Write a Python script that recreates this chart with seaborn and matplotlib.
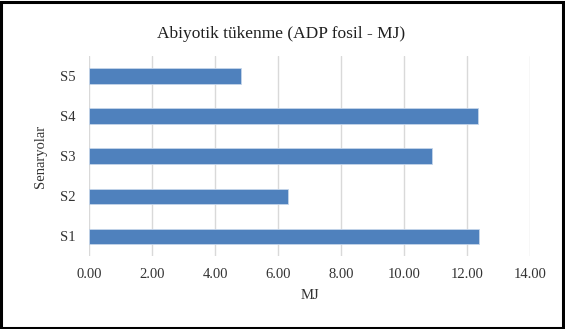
import matplotlib
matplotlib.use("Agg")
import matplotlib.pyplot as plt
import seaborn as sns
import pandas as pd
from matplotlib.patches import Rectangle

# Scenario results (MJ)
scenarios = ["S1", "S2", "S3", "S4", "S5"]
values = [12.38, 6.32, 10.89, 12.36, 4.81]
x_ticks = [0, 2, 4, 6, 8, 10, 12, 14]
x_tick_labels = ["0.00", "2.00", "4.00", "6.00", "8.00", "10.00", "12.00", "14.00"]

title = "Abiyotik tükenme (ADP fosil - MJ)"
x_label = "MJ"
y_label = "Senaryolar"

sns.set_theme(style="white")
plt.rcParams["font.family"] = ["Liberation Serif", "DejaVu Serif"]

df = pd.DataFrame({"Senaryo": scenarios, "MJ": values})
order = scenarios[::-1]  # S5 on top, S1 at bottom

fig = plt.figure(figsize=(5.65, 3.29), dpi=100)
ax = fig.add_axes([0.158, 0.2204, 0.780, 0.6094])

sns.barplot(data=df, y="Senaryo", x="MJ", order=order, orient="h",
            color="#4F81BD", saturation=1, width=0.39,
            edgecolor="#C5D5EA", linewidth=0.6, ax=ax, zorder=3)

ax.set_xlim(0, 14)
ax.set_ylim(4.5, -0.5)
ax.set_xticks(x_ticks)
ax.set_xticklabels(x_tick_labels)
ax.xaxis.grid(True, color="#D9D9D9", linewidth=1.0, zorder=0)
ax.yaxis.grid(False)
for s in ax.spines.values():
    s.set_visible(False)
ax.tick_params(axis="both", length=0, labelsize=10.5, colors="#333333")
ax.tick_params(axis="x", pad=8)
ax.tick_params(axis="y", pad=10)

ax.set_xlabel(x_label, fontsize=10.5, color="#333333", labelpad=6)
ax.set_ylabel(y_label, fontsize=10.5, color="#333333", labelpad=9)
fig.text(0.497, 0.898, title, ha="center", va="center", fontsize=12.5, color="#1f1f1f")

# Outer frame around the chart
fig.patches.append(Rectangle((0.002, 0.004), 0.994, 0.991, transform=fig.transFigure,
                             fill=False, edgecolor="black", linewidth=2.2))

fig.savefig("out.png", dpi=100)
